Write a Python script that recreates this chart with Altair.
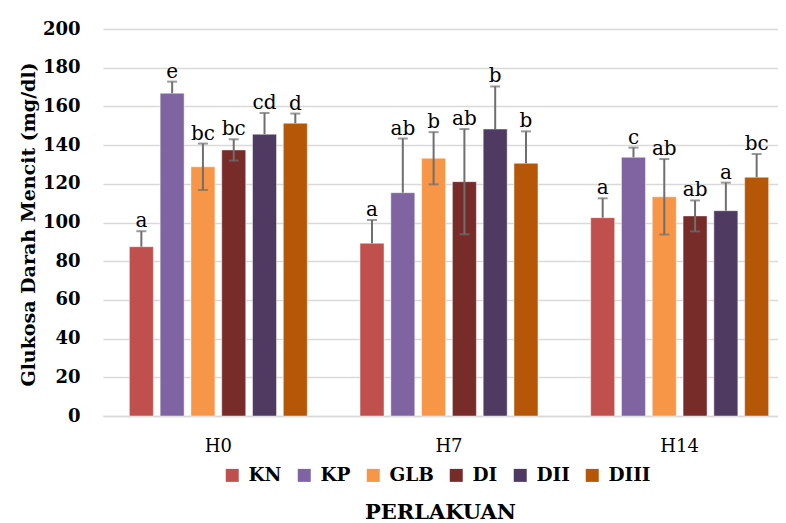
import altair as alt
import pandas as pd

groups = ["H0", "H7", "H14"]
series = ["KN", "KP", "GLB", "DI", "DII", "DIII"]
colors = ["#C0504D", "#8064A2", "#F79646", "#772C2A", "#4F3B62", "#B65708"]

# mean values per series across H0, H7, H14
kn = [87.5, 89.3, 102.5]
kp = [166.8, 115.4, 133.7]
glb = [128.8, 133.2, 113.3]
di = [137.5, 121.1, 103.4]
dii = [145.6, 148.3, 106.1]
diii = [151.3, 130.6, 123.4]

# error (SD) per series
kn_sd = [8, 12, 10]
kp_sd = [6, 28, 5]
glb_sd = [12, 13.5, 19.5]
di_sd = [5.5, 27.2, 8]
dii_sd = [11, 22, 14.5]
diii_sd = [5, 16.5, 12]

# significance letters
kn_l = ["a", "a", "a"]
kp_l = ["e", "ab", "c"]
glb_l = ["bc", "b", "ab"]
di_l = ["bc", "ab", "ab"]
dii_l = ["cd", "b", "a"]
diii_l = ["d", "b", "bc"]

# series whose error bars are drawn in both directions
both_sided = ["GLB", "DI"]

y_ticks = [0, 20, 40, 60, 80, 100, 120, 140, 160, 180, 200]

means = [kn, kp, glb, di, dii, diii]
sds = [kn_sd, kp_sd, glb_sd, di_sd, dii_sd, diii_sd]
letters = [kn_l, kp_l, glb_l, di_l, dii_l, diii_l]

rows = []
for s, m, e, l in zip(series, means, sds, letters):
    for g, mv, ev, lv in zip(groups, m, e, l):
        both = s in both_sided
        rows.append({
            "group": g, "series": s, "mean": mv, "sd": ev,
            "hi": mv + ev, "lo": (mv - ev) if both else mv,
            "letter": lv, "both": both,
        })
df = pd.DataFrame(rows)

FONT = "DejaVu Serif"

x_axis = alt.Axis(title="PERLAKUAN", labelAngle=0, ticks=False,
                  labelPadding=21, labelFontSize=18, labelFont=FONT,
                  labelColor="#000000", domainColor="#d9d9d9",
                  domainWidth=1.5, titleFont=FONT, titleFontSize=21,
                  titleFontWeight="bold", titleColor="#000000",
                  titleX=337, titleY=102, titleBaseline="alphabetic",
                  titleAnchor="start", titleAlign="center")
x_scale = alt.Scale(range=[0, 692], paddingInner=0, paddingOuter=0)
xg = alt.X("group:N", sort=groups, scale=x_scale, axis=x_axis)
xo_enc = alt.XOffset("series:N", sort=series,
                     scale=alt.Scale(paddingInner=0.221, paddingOuter=0.856))

y_scale = alt.Scale(domain=[0, 200], nice=False)
y_axis = alt.Axis(values=y_ticks, title="Glukosa Darah Mencit (mg/dl)",
                  labelOverlap=False, labelBound=False,
                  ticks=False, domain=False, labelPadding=23,
                  labelFont=FONT, labelFontSize=18, labelFontWeight="bold",
                  labelColor="#000000", grid=True, gridColor="#d9d9d9", gridWidth=1.5,
                  titleFont=FONT, titleFontSize=19, titleFontWeight="bold",
                  titleColor="#000000", titleX=-69, titleY=195,
                  titleAnchor="start", titleAlign="center",
                  titleBaseline="alphabetic", titleAngle=-90)


def yenc(field):
    return alt.Y(field, scale=y_scale, axis=y_axis)


base = alt.Chart(df)

bars = base.mark_bar(stroke="white", strokeWidth=1, strokeOpacity=0.45).encode(
    x=xg,
    xOffset=xo_enc,
    y=yenc("mean:Q"),
    color=alt.Color("series:N", sort=series,
                    scale=alt.Scale(domain=series, range=colors),
                    legend=alt.Legend(title=None, orient="none", direction="horizontal",
                                      legendX=120, legendY=437,
                                      symbolType="square", symbolSize=169,
                                      symbolStrokeWidth=0, labelFont=FONT,
                                      labelFontSize=18.5, labelFontWeight="bold",
                                      labelColor="#000000", columnPadding=13,
                                      labelOffset=7)),
)

err_color = "#6f6f6f"

stems = base.mark_rule(color=err_color, strokeWidth=2).encode(
    x=xg, xOffset=xo_enc, y=yenc("lo:Q"), y2="hi:Q",
)

caps_top = base.mark_tick(color=err_color, thickness=2, size=10).encode(
    x=xg, xOffset=xo_enc, y=yenc("hi:Q"),
)

caps_bot = base.transform_filter(alt.datum.both == True).mark_tick(
    color=err_color, thickness=2, size=10).encode(
    x=xg, xOffset=xo_enc, y=yenc("lo:Q"),
)

labels = base.mark_text(font=FONT, fontSize=20, color="#000000",
                        baseline="alphabetic", dy=-4).encode(
    x=xg, xOffset=xo_enc, y=yenc("hi:Q"),
    text="letter:N",
)

chart = alt.layer(bars, stems, caps_top, caps_bot, labels).properties(
    width=675, height=387,
    autosize=alt.AutoSizeParams(type="none"),
    padding={"left": 95, "top": 21, "right": 0, "bottom": 107},
).configure_view(stroke=None).configure_axisX(grid=False).configure_axisY(
    labelOverlap=False, values=y_ticks, tickCount=11)

chart.save("out.html", embed_options={"renderer": "svg", "actions": False})
